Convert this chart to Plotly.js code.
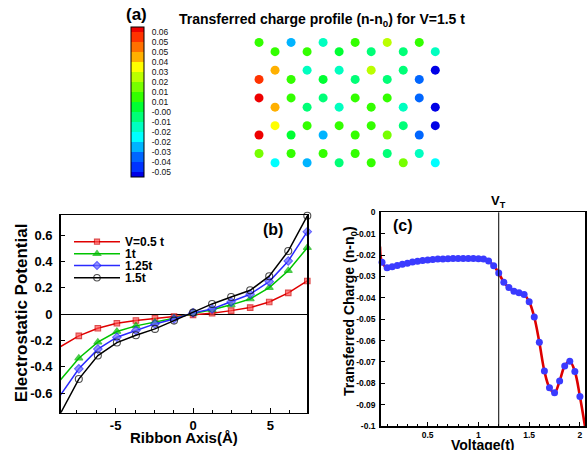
<!DOCTYPE html>
<html><head><meta charset="utf-8">
<script src="https://cdn.plot.ly/plotly-3.0.1.min.js"></script>
<style>html,body{margin:0;padding:0;background:#fff}#chart{width:588px;height:450px}</style>
</head><body><div id="chart"></div>
<script>
// ---------- Panel (a): transferred charge on ribbon atoms, V = 1.5 t ----------
const columnX = [0, 1.23, 2.46, 3.69, 4.92, 6.15, 7.38, 8.61, 9.84, 11.07, 12.30, 13.53];
const rowsEven = [9.23, 6.39, 4.97, 2.13, 0.71];
const rowsOdd  = [8.52, 7.10, 4.26, 2.84, 0.00];
const columnCharge = [
  [ 0.011,  0.056,  0.062,  0.062,  0.019],
  [ 0.011,  0.041,  0.041,  0.034, -0.019],
  [-0.026,  0.011,  0.011,  0.004,  0.011],
  [ 0.011, -0.011, -0.004,  0.011, -0.026],
  [-0.011,  0.004, -0.004, -0.026,  0.011],
  [ 0.004, -0.011, -0.011,  0.011, -0.004],
  [ 0.011, -0.004,  0.011,  0.011,  0.011],
  [-0.004,  0.026,  0.011,  0.011,  0.011],
  [ 0.026, -0.004,  0.011,  0.019, -0.004],
  [-0.004, -0.004, -0.011, -0.004,  0.019],
  [ 0.011, -0.034, -0.034, -0.034, -0.011],
  [-0.011, -0.047, -0.047, -0.047, -0.019]
];
const contourLevels = [0.06, 0.0525, 0.045, 0.0375, 0.03, 0.0225, 0.015, 0.0075, 0, -0.0075, -0.015, -0.0225, -0.03, -0.0375, -0.045];
const levelLabels = ['0.06','0.05','0.05','0.04','0.03','0.02','0.01','0.01','-0.00','-0.01','-0.02','-0.02','-0.03','-0.04','-0.05'];
const bandColors = ['#ee0000','#ff3300','#ff7000','#ffb000','#ffff00','#bbff00','#77ff00','#33ff00',
                    '#00ff33','#00ff77','#00ffc0','#00ffff','#00b4ff','#0066ff','#0033ff','#0000e6'];

// ---------- Panel (b): electrostatic potential along ribbon axis ----------
const ribbonAxis = [-8.61, -7.38, -6.15, -4.92, -3.69, -2.46, -1.23, 0, 1.23, 2.46, 3.69, 4.92, 6.15, 7.38];
const potV05  = [-0.250, -0.165, -0.107, -0.069, -0.048, -0.031, -0.018, -0.005, 0.008, 0.027, 0.050, 0.093, 0.162, 0.253];
const potV10  = [-0.507, -0.335, -0.213, -0.132, -0.089, -0.061, -0.031, 0.005, 0.033, 0.071, 0.116, 0.202, 0.331, 0.506];
const potV125 = [-0.623, -0.416, -0.266, -0.175, -0.124, -0.074, -0.036, 0.010, 0.040, 0.093, 0.152, 0.248, 0.405, 0.628];
const potV15  = [-0.765, -0.494, -0.315, -0.216, -0.160, -0.112, -0.049, 0.012, 0.078, 0.131, 0.182, 0.289, 0.481, 0.749];
const seriesNames = ['V=0.5 t', '1t', '1.25t', '1.5t'];
const bXTicks = [-5, 0, 5];
const bXLabels = ['-5', '0', '5'];
const bYTicks = [-0.6, -0.4, -0.2, 0, 0.2, 0.4, 0.6];
const bYLabels = ['-0.6', '-0.4', '-0.2', '0', '0.2', '0.4', '0.6'];

// ---------- Panel (c): transferred charge vs voltage ----------
const voltage = [0.05,0.10,0.15,0.20,0.25,0.30,0.35,0.40,0.45,0.50,0.55,0.60,0.65,0.70,0.75,0.80,0.85,0.90,0.95,1.00,
                 1.05,1.10,1.15,1.20,1.25,1.30,1.35,1.40,1.45,1.50,1.55,1.60,1.65,1.70,1.75,1.80,1.85,1.90,1.95,2.00];
const transferredCharge = [-0.0234,-0.0259,-0.0255,-0.0249,-0.0243,-0.0238,-0.0233,-0.0229,-0.0226,-0.0223,
                           -0.0221,-0.0219,-0.0218,-0.0217,-0.0216,-0.0216,-0.0216,-0.0216,-0.0216,-0.0217,
                           -0.0219,-0.0228,-0.0250,-0.0284,-0.0327,-0.0352,-0.0369,-0.0376,-0.0385,-0.0418,
                           -0.0490,-0.0608,-0.0743,-0.0821,-0.0844,-0.0789,-0.0719,-0.0697,-0.0745,-0.0862];
const curveStart = {v: 0.03, q: -0.016};
const curveEnd = {v: 2.10, q: -0.115};
const thresholdVoltage = 1.2;
const cXTicks = [0.5, 1, 1.5, 2];
const cXLabels = ['0.5', '1', '1.5', '2'];
const cYTicks = [0,-0.01,-0.02,-0.03,-0.04,-0.05,-0.06,-0.07,-0.08,-0.09,-0.1];
const cYLabels = ['0','-0.01','-0.02','-0.03','-0.04','-0.05','-0.06','-0.07','-0.08','-0.09','-0.1'];

// ---------- build ----------
const W = 588, H = 450;
const fx = p => p / W, fy = p => 1 - p / H;
const FONT = 'Liberation Sans, Arial, Helvetica, sans-serif';
const bold = (size) => ({family: FONT, size: size, color: '#000', weight: 'bold'});

const atomX = [], atomY = [], atomQ = [];
columnX.forEach((x, i) => {
  const rows = i % 2 === 0 ? rowsEven : rowsOdd;
  rows.forEach((y, k) => { atomX.push(x); atomY.push(y); atomQ.push(columnCharge[i][k]); });
});
const N = contourLevels.length;
const step = contourLevels[0] - contourLevels[1];
const cmax = contourLevels[0] + step / 2;
const cmin = contourLevels[N - 1] - step / 2;
const norm = v => (v - cmin) / (cmax - cmin);
const colorsUp = bandColors.slice().reverse();
const colorscale = [];
colorsUp.forEach((c, j) => {
  const lo = j === 0 ? 0 : norm(contourLevels[N - j]);
  const hi = j === colorsUp.length - 1 ? 1 : norm(contourLevels[N - 1 - j]);
  colorscale.push([lo, c], [hi, c]);
});

// colour bar geometry (pixels)
const cbLeft = 130.5, cbTop = 27, cbThick = 12.5, cbLen = 150;

const traces = [];
traces.push({
  type: 'scatter', mode: 'markers', x: atomX, y: atomY, xaxis: 'x', yaxis: 'y', showlegend: false,
  hoverinfo: 'skip',
  marker: {
    size: 9, color: atomQ, colorscale: colorscale, cmin: cmin, cmax: cmax, line: {width: 0},
    colorbar: {
      thickness: cbThick, thicknessmode: 'pixels', len: cbLen, lenmode: 'pixels',
      x: fx(cbLeft), xanchor: 'left', y: fy(cbTop), yanchor: 'top', xpad: 0, ypad: 0,
      outlinewidth: 1, outlinecolor: '#000', borderwidth: 0,
      tickmode: 'array', tickvals: contourLevels, ticktext: levelLabels,
      ticks: 'outside', ticklen: 6, tickcolor: 'rgba(0,0,0,0)',
      tickfont: {family: FONT, size: 8.5, color: '#111'}
    }
  }
});

const bXRange = [-8.55, 7.38];
const bStyles = [
  {line: '#e00000', symbol: 'square', size: 5.5, fill: '#ff5050', edge: '#d00000'},
  {line: '#00c400', symbol: 'triangle-up', size: 7, fill: '#00c400', edge: '#00b000'},
  {line: '#2a2aff', symbol: 'diamond', size: 6.5, fill: '#6a6aff', edge: '#2020ff'},
  {line: '#000000', symbol: 'circle-open', size: 7, fill: '#000000', edge: '#000000'}
];
[potV05, potV10, potV125, potV15].forEach((ys, i) => {
  const s = bStyles[i];
  traces.push({
    type: 'scatter', mode: 'lines+markers', x: ribbonAxis, y: ys, xaxis: 'x2', yaxis: 'y2',
    name: seriesNames[i], legend: i === 0 ? 'legend' : 'legend' + (i + 1), cliponaxis: false,
    line: {color: s.line, width: 1.5},
    marker: {symbol: s.symbol, size: ribbonAxis.map(x => x < bXRange[0] ? 0 : s.size), color: s.fill,
             line: {color: s.edge, width: 1.1}}
  });
});

traces.push({
  type: 'scatter', mode: 'lines', xaxis: 'x3', yaxis: 'y3', showlegend: false,
  x: [curveStart.v].concat(voltage, [curveEnd.v]),
  y: [curveStart.q].concat(transferredCharge, [curveEnd.q]),
  line: {color: '#dd0000', width: 2.6, shape: 'spline', smoothing: 1}
});
traces.push({
  type: 'scatter', mode: 'markers', xaxis: 'x3', yaxis: 'y3', showlegend: false, cliponaxis: false,
  x: voltage, y: transferredCharge,
  marker: {symbol: 'circle', size: 7, color: '#3a3aff'}
});

const legendRows = [241.7, 253.7, 265.5, 277.8];
const legendBase = (row) => ({
  x: fx(69), xanchor: 'left', y: fy(row), yanchor: 'middle', bgcolor: 'rgba(0,0,0,0)',
  borderwidth: 0, font: bold(12), itemwidth: 46, tracegroupgap: 0
});

const axisCommon = {showline: true, linecolor: '#000', mirror: true, showgrid: false, zeroline: false};
const note = (text, x, y, size, extra) => Object.assign({
  text: text, xref: 'paper', yref: 'paper', x: fx(x), y: fy(y), xanchor: 'center', yanchor: 'middle',
  showarrow: false, font: bold(size)
}, extra || {});

// thin dark separators between colour-bar bands, at each contour level
const separators = contourLevels.map(lv => {
  const yp = cbTop + (cmax - lv) / (cmax - cmin) * cbLen;
  return {type: 'line', xref: 'paper', yref: 'paper', x0: fx(cbLeft + 0.5), x1: fx(cbLeft + cbThick + 0.5),
          y0: fy(yp), y1: fy(yp), line: {color: 'rgba(20,20,20,0.75)', width: 1}};
});

const layout = {
  width: W, height: H, margin: {l: 0, r: 0, t: 0, b: 0}, paper_bgcolor: '#fff', plot_bgcolor: 'rgba(0,0,0,0)',
  showlegend: true, hovermode: false,
  legend: legendBase(legendRows[0]), legend2: legendBase(legendRows[1]),
  legend3: legendBase(legendRows[2]), legend4: legendBase(legendRows[3]),
  xaxis: {domain: [fx(240), fx(456)], range: [-1.46, 15.12], visible: false, anchor: 'y'},
  yaxis: {domain: [fy(175), fy(30)], range: [-0.944, 10.184], visible: false, anchor: 'x'},
  xaxis2: Object.assign({}, axisCommon, {
    domain: [fx(60.7), fx(307.3)], range: bXRange, anchor: 'y2', linewidth: 1.5,
    tickmode: 'array', tickvals: bXTicks, ticktext: bXLabels, ticks: 'inside', ticklen: 5, tickcolor: '#000',
    minor: {dtick: 1.25, tick0: 0, ticks: 'inside', ticklen: 3, tickcolor: '#000'},
    tickfont: bold(13)
  }),
  yaxis2: Object.assign({}, axisCommon, {
    domain: [fy(412.7), fy(215)], range: [-0.75, 0.755], anchor: 'x2', linewidth: 1.5,
    tickmode: 'array', tickvals: bYTicks, ticktext: bYLabels, ticks: 'inside', ticklen: 4, tickcolor: '#000',
    ticklabelstandoff: 4,
    zeroline: true, zerolinecolor: '#000', zerolinewidth: 1,
    tickfont: bold(13)
  }),
  xaxis3: Object.assign({}, axisCommon, {
    domain: [fx(380.7), fx(585)], range: [0.037, 2.05], anchor: 'y3', linewidth: 1.5,
    tickmode: 'array', tickvals: cXTicks, ticktext: cXLabels, ticks: 'inside', ticklen: 4, tickcolor: '#000',
    minor: {dtick: 0.1, tick0: 0, ticks: 'inside', ticklen: 2.5, tickcolor: '#000'},
    tickfont: bold(8.5)
  }),
  yaxis3: Object.assign({}, axisCommon, {
    domain: [fy(426), fy(212.3)], range: [-0.1, 0], anchor: 'x3', linewidth: 1.5,
    tickmode: 'array', tickvals: cYTicks, ticktext: cYLabels, ticks: 'inside', ticklen: 4, tickcolor: '#000',
    ticklabelstandoff: 2,
    tickfont: bold(8.5)
  }),
  shapes: [{type: 'line', xref: 'x3', yref: 'y3 domain', x0: thresholdVoltage, x1: thresholdVoltage, y0: 0, y1: 1,
            line: {color: '#000', width: 1}}].concat(separators),
  annotations: [
    note('(a)', 136.7, 15, 17),
    note('Transferred charge profile (n-n<sub>0</sub>) for V=1.5 t', 177, 20, 14, {xanchor: 'left'}),
    note('(b)', 273.3, 229.3, 16),
    note('Electrostatic Potential', 21.7, 312.5, 17, {textangle: -90}),
    note('Ribbon Axis(Å)', 184, 437.5, 15),
    note('(c)', 403.3, 225.5, 16),
    note('Transferred Charge (n-n<sub>0</sub>)', 350, 311, 14, {textangle: -90}),
    note('Voltage(t)', 483, 445, 14),
    {text: 'V<sub>T</sub>', xref: 'x3', yref: 'paper', x: thresholdVoltage, y: fy(201), xanchor: 'center',
     yanchor: 'middle', showarrow: false, font: bold(13)}
  ]
};

Plotly.newPlot('chart', traces, layout, {displayModeBar: false, staticPlot: true});
</script></body></html>
